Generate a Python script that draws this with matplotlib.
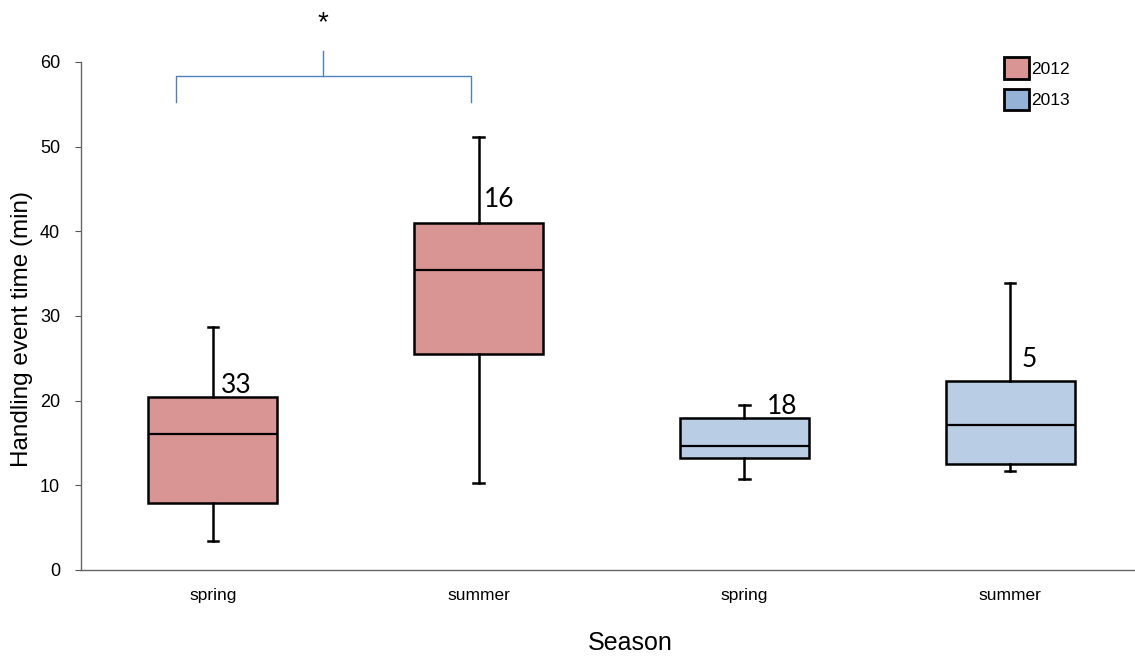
import matplotlib.pyplot as plt
from matplotlib.patches import Patch

# five-number summaries per season/year (minutes)
seasons = ["spring", "summer", "spring", "summer"]
years = ["2012", "2012", "2013", "2013"]
whisker_low = [3.4, 10.3, 10.7, 11.7]
q1 = [7.9, 25.5, 13.2, 12.5]
median = [16.1, 35.4, 14.6, 17.1]
q3 = [20.4, 41.0, 18.0, 22.3]
whisker_high = [28.7, 51.1, 19.5, 33.9]
n_obs = [33, 16, 18, 5]

box_colors = {"2012": "#d99594", "2013": "#b9cde5"}
legend_colors = {"2012": "#d99594", "2013": "#95b3d7"}

# placement of each n label relative to box centre / box top
label_dx = [0.03, 0.02, 0.083, 0.045]
label_dy = [-0.1, 1.25, -0.2, 1.05]

plt.rcParams["font.family"] = ["Liberation Sans", "DejaVu Sans"]

fig = plt.figure(figsize=(11.35, 6.58), dpi=100)
ax = fig.add_axes([81 / 1135, 88 / 658, 1 - 81 / 1135, 508 / 658])

stats = []
for i in range(len(seasons)):
    stats.append({"whislo": whisker_low[i], "q1": q1[i], "med": median[i],
                  "q3": q3[i], "whishi": whisker_high[i], "fliers": []})

pos = list(range(len(seasons)))
bp = ax.bxp(stats, positions=pos, widths=0.485, patch_artist=True,
            showfliers=False,
            boxprops=dict(linewidth=1.8, edgecolor="black"),
            medianprops=dict(color="black", linewidth=1.6),
            whiskerprops=dict(color="black", linewidth=1.8),
            capprops=dict(color="black", linewidth=1.8),
            capwidths=0.04)
for patch, yr in zip(bp["boxes"], years):
    patch.set_facecolor(box_colors[yr])

# sample sizes next to the upper whisker
for i, n in enumerate(n_obs):
    ax.text(pos[i] + label_dx[i], q3[i] + label_dy[i], str(n), fontsize=19,
            family=["Lato", "DejaVu Sans"], ha="left", va="bottom")

# significance bracket between the 2012 seasons
bc = "#4f81bd"
ax.plot([-0.14, -0.14, 0.97, 0.97], [55.3, 58.3, 58.3, 55.3], color=bc,
        linewidth=1.0, clip_on=False)
ax.plot([0.415, 0.415], [58.3, 61.3], color=bc, linewidth=1.0, clip_on=False)
ax.text(0.415, 64.6, "*", fontsize=20, ha="center", va="center")

ax.set_xlim(-0.496, 3.47)
ax.set_ylim(0, 60)
ax.set_yticks(range(0, 61, 10))
ax.set_xticks(pos)
ax.set_xticklabels(seasons)
ax.tick_params(axis="x", length=0, pad=13, labelsize=12.5)
ax.tick_params(axis="y", direction="out", length=4, width=0.8,
               labelsize=13, pad=11, color="#555555")

for side in ("top", "right"):
    ax.spines[side].set_visible(False)
for side in ("left", "bottom"):
    ax.spines[side].set_color("#666666")
    ax.spines[side].set_linewidth(1.0)

ax.set_ylabel("Handling event time (min)", fontsize=17.5, va="center")
ax.yaxis.set_label_coords(-0.056, 0.474)
ax.set_xlabel("Season", fontsize=18, va="center")
ax.xaxis.set_label_coords(0.521, -0.144)

handles = [Patch(facecolor=legend_colors[y], edgecolor="black", linewidth=2.0)
           for y in ("2012", "2013")]
ax.legend(handles, ["2012", "2013"], loc="upper right",
          bbox_to_anchor=(0.953, 1.04), frameon=False, fontsize=12.5,
          handlelength=1.45, handleheight=1.55, handletextpad=0.1,
          labelspacing=0.55)

fig.savefig("out.png", dpi=100)
